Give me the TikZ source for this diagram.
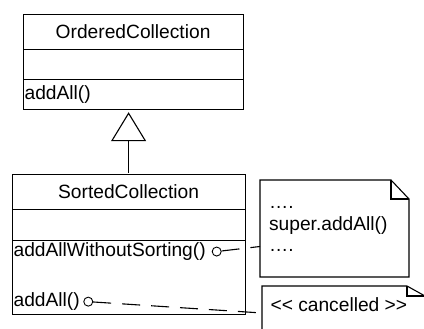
\documentclass[tikz,border=0pt]{standalone}
\usepackage{fontspec}
\setmainfont{Liberation Sans}[Ligatures=TeXOff]
\usetikzlibrary{matrix,positioning,arrows.meta}
\tikzset{
classmat/.style={
  matrix of nodes,
  nodes in empty cells,
  inner sep=0pt,
  anchor=north west,
  row sep=-\pgflinewidth,
  nodes={rectangle,draw=black,inner xsep=1.5pt,inner ysep=0pt,
         text width=#1,align=left},
  row 1/.style={nodes={align=center,minimum height=35pt}}
  }
}
\tikzset{
optext/.style={anchor=west,inner xsep=1.5pt,inner ysep=0pt},
lolli/.style={circle,draw=black,line width=0.9pt,inner sep=0pt,minimum size=9pt},
notebox/.style={anchor=north west,inner sep=0pt,outer sep=0pt},
notetext/.style={anchor=north west,align=left,inner sep=0pt,
  font=\fontsize{19.2}{21.5}\selectfont},
depend/.style={dash pattern=on 18pt off 11pt}
}

\begin{document}
\begin{tikzpicture}[x=1pt,y=-1pt,line width=1.1pt,
  font=\fontsize{19.2}{22.5}\selectfont]
\useasboundingbox (0,0) rectangle (424,329);
\clip (0,0) rectangle (424,329);

\matrix[classmat=217pt,
    row 2/.style={nodes={minimum height=30pt}},
    row 3/.style={nodes={minimum height=30pt}}]
at (22,13)
(ordered)
{ OrderedCollection \\
  \\
  addAll() \\ };

\matrix[classmat=230pt,
    row 2/.style={nodes={minimum height=31pt}},
    row 3/.style={nodes={minimum height=74pt}}]
at (11,173)
(sorted)
{ SortedCollection \\
  \\
  \\ };

\node[optext] (wosort) at ([yshift=-12pt]sorted-3-1.north west) {addAllWithoutSorting()};
\node[lolli,right=4pt of wosort] (wosortc) {};
\node[optext] (addall) at ([yshift=13pt]sorted-3-1.south west) {addAll()};
\node[lolli,right=1.5pt of addall] (addallc) {};

\draw[-{Triangle[open,length=29pt,width=35pt]},shorten >=2pt]
  (sorted.north) -- (sorted.north |- ordered.south);

\begin{scope}
\node[notebox,minimum width=149pt,minimum height=97pt] (supernote) at (260,180) {};
\node[notetext] (supertext) at ([shift={(8.5pt,-13pt)}]supernote.north west)
  {\strut….\\super.addAll()\\….};
\draw (supernote.north west) -- ([xshift=-18pt]supernote.north east)
  -- ([yshift=-19pt]supernote.north east) -- (supernote.south east)
  -- (supernote.south west) -- cycle;
\draw ([xshift=-18pt]supernote.north east) |- ([yshift=-19pt]supernote.north east);
\draw[depend] (wosortc) -- ([yshift=-18pt]supernote.west);
\end{scope}

\begin{scope}
\node[notebox,minimum width=163pt,minimum height=60pt] (cancelnote) at (262,286) {};
\node[notetext] (canceltext) at ([shift={(8pt,-10pt)}]cancelnote.north west)
  {\strut<< cancelled >>};
\draw (cancelnote.north west) -- ([xshift=-18pt]cancelnote.north east)
  -- ([yshift=-10pt]cancelnote.north east) -- (cancelnote.south east)
  -- (cancelnote.south west) -- cycle;
\draw ([xshift=-18pt]cancelnote.north east) |- ([yshift=-10pt]cancelnote.north east);
\draw[depend] (addallc) -- ([yshift=-27pt]cancelnote.north west);
\end{scope}

\end{tikzpicture}
\end{document}
